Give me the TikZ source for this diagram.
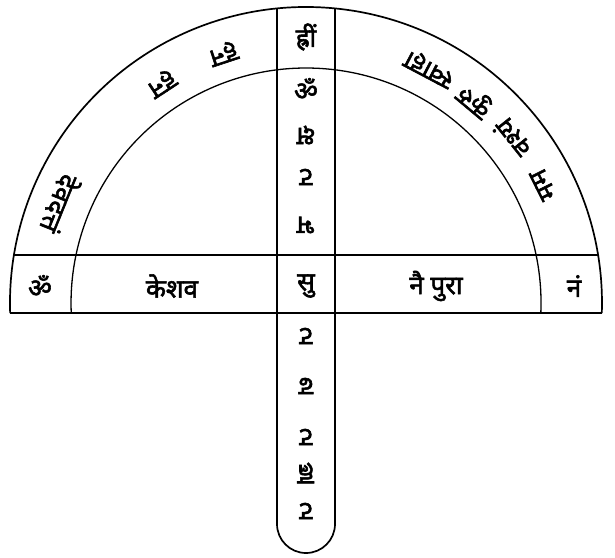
\documentclass[tikz,border=0pt]{standalone}
\usepackage{fontspec}
\newfontfamily\deva[Script=Devanagari, FakeBold=2.2]{Noto Sans}
\begin{document}
\begin{tikzpicture}[
    x=1pt, y=1pt,
    rule/.style={draw=black, line width=1.7pt},
    thin rule/.style={draw=black, line width=1.3pt},
    word/.style={font=\deva\fontsize{26}{26}\selectfont, inner sep=0pt},
    flip/.style={word, rotate=180}
]
\useasboundingbox (-306,-254) rectangle (309,303);
\coordinate (centre) at (0,0);

% Frame
\draw[rule] (295.8,-10) arc[start angle=-1.94, end angle=181.94, radius=296pt];
\draw[thin rule] (234.8,-10) arc[start angle=-2.44, end angle=182.44, radius=235pt];
\draw[rule] (-292.1,48) -- (292.1,48);
\draw[rule] (-295.8,-10) -- (295.8,-10);
\draw[rule] (-29,294.6) -- (-29,-221) arc[start angle=180, end angle=360, radius=29pt] -- (29,294.6);

% Column
\node[word] (top) at (0,266) {ह्रीं};
\node[word] (om) at (0,214) {ॐ};
\node[flip] (up1) at (0,168) {क्ष};
\node[flip] (up2) at (0,126) {ट};
\node[flip] (up3) at (0,78) {भ};
\node[word] (mid) at (0,17) {सु};
\node[flip] (low1) at (0,-33) {ट};
\node[flip] (low2) at (0,-83) {ढ};
\node[flip] (low3) at (0,-134) {ट};
\node[flip] (low4) at (0,-170) {ह्ल};
\node[flip] (low5) at (0,-208) {ट};

% Bar
\node[word] (barL) at (-266,17) {ॐ};
\node[word] (kesh) at (-134,17) {केशव};
\node[word] (pura) at (130,17) {नै पुरा};
\node[word] (barR) at (268,17) {नं};

% Left arc
\node[word, rotate=198.3] (arcL1) at (108.3:263) {हन};
\node[word, rotate=213.3] (arcL2) at (123.3:263) {हन};
\node[word, rotate=248] (arcL3) at (158:265) {देवदत्तं};

% Right arc
\node[word, rotate=116.5] (arcR1) at (26.5:265) {मम};
\node[word, rotate=128.6] (arcR2) at (38.6:264) {वश्यं};
\node[word, rotate=140.1] (arcR3) at (50.1:264) {कुरु};
\node[word, rotate=152.2] (arcR4) at (62.2:265) {स्वाहा};
\end{tikzpicture}
\end{document}
